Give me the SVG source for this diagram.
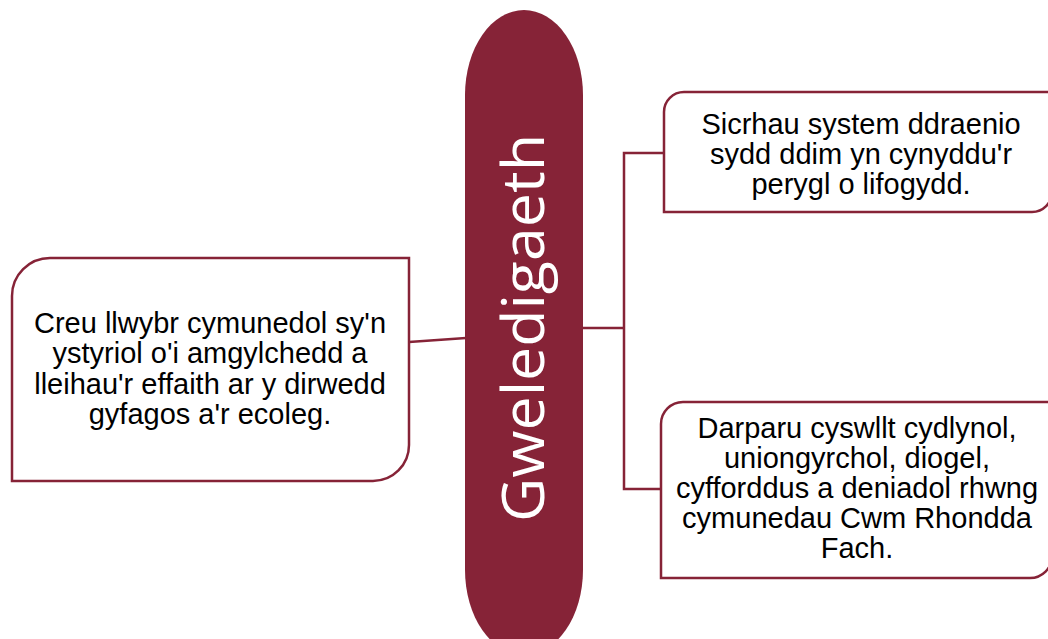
<svg xmlns="http://www.w3.org/2000/svg" width="1048" height="639" viewBox="0 0 1048 639">
<style>
.box{fill:#fff;stroke:#862337;stroke-width:2.5}
.con{fill:none;stroke:#862337;stroke-width:2.5}
.t{font-family:"Liberation Sans",Arial,sans-serif;font-size:29px;fill:#000;text-anchor:middle}
.c{font-family:"Open Sans","Noto Sans",sans-serif;font-size:58px;fill:#fff;text-anchor:middle}
</style>
<rect width="1048" height="639" fill="#fff"/>
<g id="connectors">
<line class="con" x1="409" y1="342" x2="466" y2="338"/>
<polyline class="con" points="583,328 624,328"/>
<polyline class="con" points="664,153 624,153 624,489 662,489"/>
</g>
<g id="center">
<rect x="465" y="10" width="118" height="645" rx="59" ry="85" fill="#862337"/>
<text class="c" transform="translate(544,328) rotate(-90)" textLength="388" lengthAdjust="spacingAndGlyphs">Gweledigaeth</text>
</g>
<g id="left">
<path class="box" d="M12,296 A38,38 0 0 1 50,258 H409 V445 A36,36 0 0 1 373,481 H12 Z"/>
<text class="t" x="210" y="333">Creu llwybr cymunedol sy'n</text>
<text class="t" x="210" y="363">ystyriol o'i amgylchedd a</text>
<text class="t" x="210" y="394">lleihau'r effaith ar y dirwedd</text>
<text class="t" x="210" y="424">gyfagos a'r ecoleg.</text>
</g>
<g id="topright">
<path class="box" d="M664,112 A20,20 0 0 1 684,92 H1052 V192 A20,20 0 0 1 1032,212 H664 Z"/>
<text class="t" x="861" y="134">Sicrhau system ddraenio</text>
<text class="t" x="861" y="164">sydd ddim yn cynyddu'r</text>
<text class="t" x="861" y="194">perygl o lifogydd.</text>
</g>
<g id="bottomright">
<path class="box" d="M661,424 A22,22 0 0 1 683,402 H1052 V556 A22,22 0 0 1 1030,578 H661 Z"/>
<text class="t" x="857" y="438">Darparu cyswllt cydlynol,</text>
<text class="t" x="857" y="468">uniongyrchol, diogel,</text>
<text class="t" x="857" y="498">cyfforddus a deniadol rhwng</text>
<text class="t" x="857" y="528">cymunedau Cwm Rhondda</text>
<text class="t" x="857" y="558">Fach.</text>
</g>
</svg>
